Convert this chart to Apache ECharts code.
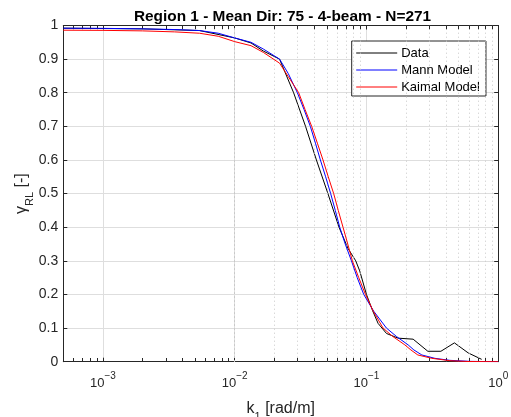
<!DOCTYPE html>
<html><head><meta charset="utf-8">
<script src="https://cdn.jsdelivr.net/npm/echarts@6/dist/echarts.min.js"></script>
<style>html,body{margin:0;padding:0;background:#fff}#c{width:511px;height:417px}</style>
</head><body><div id="c"></div>
<script>
// ---- data ----
const kData = [5e-4, 0.002, 0.0054, 0.01, 0.0133, 0.0165, 0.0219, 0.028, 0.0345, 0.0417, 0.051, 0.0619, 0.0724, 0.0829, 0.0889, 0.1, 0.111, 0.1225, 0.1419, 0.1739, 0.2261, 0.2924, 0.3673, 0.4652, 0.5925, 0.749];
const yData = [0.992, 0.990, 0.985, 0.963, 0.948, 0.924, 0.900, 0.800, 0.700, 0.600, 0.500, 0.400, 0.337, 0.300, 0.270, 0.200, 0.153, 0.114, 0.084, 0.070, 0.067, 0.031, 0.031, 0.056, 0.026, 0.007];

const kMann = [5e-4, 0.001, 0.002, 0.0035, 0.0054, 0.0075, 0.01, 0.0133, 0.0165, 0.0219, 0.0255, 0.0299, 0.0336, 0.0375, 0.041, 0.0447, 0.049, 0.0535, 0.058, 0.0627, 0.069, 0.0769, 0.0851, 0.0954, 0.1136, 0.1419, 0.169, 0.2072, 0.229, 0.2634, 0.3307, 0.43, 0.61, 1];
const yMann = [0.992, 0.9915, 0.990, 0.988, 0.985, 0.977, 0.963, 0.950, 0.930, 0.900, 0.857, 0.800, 0.750, 0.700, 0.650, 0.600, 0.550, 0.500, 0.450, 0.400, 0.350, 0.300, 0.250, 0.200, 0.150, 0.100, 0.075, 0.050, 0.035, 0.020, 0.010, 0.004, 0.001, 0.0];

const kKaimal = [5e-4, 0.001, 0.002, 0.0035, 0.0054, 0.0075, 0.01, 0.0133, 0.0165, 0.0219, 0.0255, 0.0306, 0.0342, 0.0384, 0.0424, 0.0468, 0.0513, 0.0564, 0.0611, 0.0664, 0.0721, 0.0782, 0.0874, 0.0983, 0.1127, 0.1337, 0.1585, 0.1956, 0.2173, 0.2455, 0.3137, 0.43, 0.6, 1];
const yKaimal = [0.986, 0.9855, 0.984, 0.981, 0.977, 0.968, 0.952, 0.940, 0.920, 0.888, 0.848, 0.800, 0.750, 0.700, 0.650, 0.600, 0.550, 0.500, 0.450, 0.400, 0.350, 0.300, 0.250, 0.200, 0.150, 0.100, 0.075, 0.050, 0.035, 0.020, 0.010, 0.003, 0.0005, 0.0];

const seriesNames = ['Data', 'Mann Model', 'Kaimal Model'];
const seriesColors = ['#000000', '#0000ff', '#ff0000'];
const titleText = 'Region 1 - Mean Dir: 75 - 4-beam - N=271';
const xMin = 5e-4, xMax = 1;

// ---- build ----
const pairs = (ks, ys) => ks.map((k, i) => [k, ys[i]]);
const minorK = [];
for (let d = -4; d <= -1; d++) {
  for (let m = 2; m <= 9; m++) {
    const v = m * Math.pow(10, d);
    if (v > xMin * 1.0001 && v < xMax) minorK.push(+v.toPrecision(3));
  }
}
const minorGridLines = minorK.map(k => ({ xAxis: k }));
const minorTicks = [];
minorK.forEach(k => {
  minorTicks.push([{ coord: [k, 0] }, { coord: [k, 0.011] }]);
  minorTicks.push([{ coord: [k, 1] }, { coord: [k, 0.989] }]);
});

const font = 'Liberation Sans, Arial, Helvetica, sans-serif';
const axisColor = '#262626';
const chart = echarts.init(document.getElementById('c'), null, { renderer: 'canvas' });
const supLabel = v => {
  const e = Math.round(Math.log10(v));
  if (Math.abs(Math.log10(v) - e) > 1e-6) return '';
  return '{b|10}{s|' + (e < 0 ? '\u2212' + (-e) : e) + '}';
};
const nameRich = {
  m: { fontFamily: font, fontSize: 16, color: axisColor, verticalAlign: 'top', lineHeight: 22 },
  sub: { fontFamily: font, fontSize: 11, color: axisColor, verticalAlign: 'bottom', lineHeight: 22 }
};
chart.setOption({
  animation: false,
  backgroundColor: '#fff',
  color: seriesColors,
  textStyle: { fontFamily: font },
  title: {
    text: titleText, left: 277.5, top: 4, textAlign: 'center',
    textStyle: { fontFamily: font, fontSize: 15.4, fontWeight: 'bold', color: '#000' }
  },
  grid: { left: 63.3, right: 12.8, top: 25.5, bottom: 55.3, containLabel: false, outerBoundsMode: 'none' },
  legend: {
    orient: 'vertical', left: 351.7, top: 41,
    data: seriesNames.map((n, i) => ({
      name: n,
      itemStyle: { color: seriesColors[i], opacity: 0, borderWidth: 0 },
      lineStyle: { color: seriesColors[i], width: 1, opacity: 1 }
    })),
    backgroundColor: '#fff', borderColor: axisColor, borderWidth: 1,
    padding: [5.5, 6, 2.5, 4], itemGap: 4, itemWidth: 41, itemHeight: 13,
    textStyle: { fontFamily: font, fontSize: 13, lineHeight: 13, color: '#000', padding: [0, 0, 0, -1] }
  },
  xAxis: [{
    type: 'log', logBase: 10, min: xMin, max: xMax, position: 'bottom',
    name: '{m|k}{sub|1}{m| [rad/m]}', nameLocation: 'middle', nameGap: 39,
    nameMoveOverlap: false,
    nameTextStyle: { rich: nameRich },
    axisLine: { show: true, onZero: false, lineStyle: { color: axisColor, width: 1 } },
    axisTick: { show: true, inside: true, length: 4, lineStyle: { color: axisColor } },
    axisLabel: {
      formatter: supLabel, margin: 9.5,
      rich: {
        b: { fontFamily: font, fontSize: 13, color: axisColor, verticalAlign: 'bottom', lineHeight: 19 },
        s: { fontFamily: font, fontSize: 10, color: axisColor, verticalAlign: 'top', lineHeight: 19 }
      }
    },
    splitLine: { show: true, lineStyle: { color: '#dedede', width: 1 } },
    minorTick: { show: false }, minorSplitLine: { show: false }
  }, {
    type: 'log', logBase: 10, min: xMin, max: xMax, position: 'top',
    axisLine: { show: true, onZero: false, lineStyle: { color: axisColor, width: 1 } },
    axisTick: { show: true, inside: true, length: 4, lineStyle: { color: axisColor } },
    axisLabel: { show: false }, splitLine: { show: false }
  }],
  yAxis: [{
    type: 'value', min: 0, max: 1, interval: 0.1, position: 'left',
    name: '{m|\u03b3}{sub|RL}{m| [-]}', nameLocation: 'middle', nameGap: 28, nameRotate: 90,
    nameMoveOverlap: false,
    nameTextStyle: { rich: nameRich },
    axisLine: { show: true, onZero: false, lineStyle: { color: axisColor, width: 1 } },
    axisTick: { show: true, inside: true, length: 4, lineStyle: { color: axisColor } },
    axisLabel: {
      fontFamily: font, fontSize: 14, color: axisColor, margin: 5,
      formatter: v => (Math.round(v * 10) / 10).toString()
    },
    splitLine: { show: true, lineStyle: { color: '#dedede', width: 1 } }
  }, {
    type: 'value', min: 0, max: 1, interval: 0.1, position: 'right',
    axisLine: { show: true, onZero: false, lineStyle: { color: axisColor, width: 1 } },
    axisTick: { show: true, inside: true, length: 4, lineStyle: { color: axisColor } },
    axisLabel: { show: false }, splitLine: { show: false }
  }],
  series: [pairs(kData, yData), pairs(kMann, yMann), pairs(kKaimal, yKaimal)].map((d, i) => ({
    name: seriesNames[i], type: 'line', data: d, symbol: 'none', z: 4 + i, color: seriesColors[i],
    lineStyle: { color: seriesColors[i], width: 1 }, itemStyle: { color: seriesColors[i] }
  })).concat([{
    name: '_grid', type: 'line', data: [], silent: true, z: 1, color: '#c8c8c8',
    markLine: {
      silent: true, symbol: ['none', 'none'], label: { show: false }, animation: false,
      lineStyle: { color: '#c8c8c8', type: [1, 3], width: 1 },
      emphasis: { disabled: true },
      data: minorGridLines
    }
  }, {
    name: '_ticks', type: 'line', data: [], silent: true, z: 3, color: axisColor,
    markLine: {
      silent: true, symbol: ['none', 'none'], label: { show: false }, animation: false,
      lineStyle: { color: axisColor, type: 'solid', width: 1 },
      emphasis: { disabled: true },
      data: minorTicks
    }
  }])
});
</script></body></html>
